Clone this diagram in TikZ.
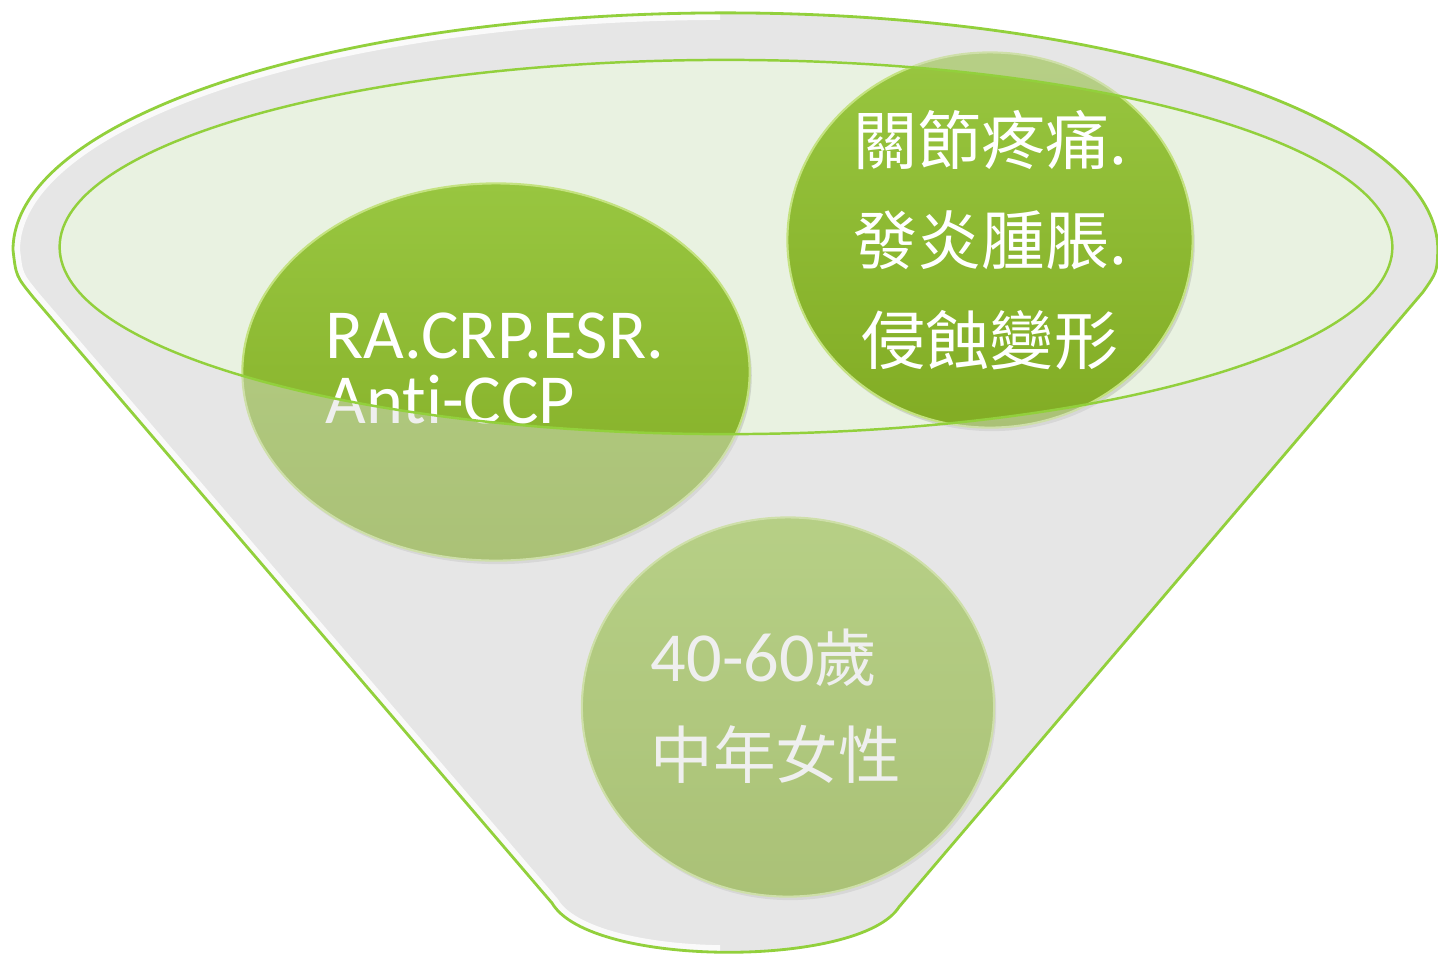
\documentclass[tikz,border=0pt]{standalone}
\usepackage{fontspec}
\setmainfont{Carlito}[Ligatures=NoCommon]
\newfontfamily\cjk{Noto Sans CJK TC}
\usetikzlibrary{shapes.geometric,shadows}

\definecolor{rimgreen}{RGB}{146,208,60}
\definecolor{cupgray}{RGB}{240,240,240}
\definecolor{cupshade}{RGB}{220,220,220}
\definecolor{pondgreen}{RGB}{233,242,225}
\definecolor{ballTop}{RGB}{152,198,64}
\definecolor{ballBottom}{RGB}{130,172,36}
\definecolor{ballRim}{RGB}{196,226,128}

% outline of the cup, in pixels of the picture
\newcommand{\funnelpath}{(33,297) .. controls (16,276) .. (13,250)
  arc[start angle=180, end angle=0, x radius=7.12cm, y radius=2.37cm]
  .. controls (1437,272) .. (1423,292) -- (899,907)
  .. controls (860,968) and (590,968) .. (552,903) -- cycle}
\newcommand{\pondpath}{(726,247) ellipse [x radius=6.66cm, y radius=1.87cm]}
\newcommand{\zh}[1]{{\cjk\fontsize{17.8}{27.6}\selectfont #1}}

\begin{document}
\begin{tikzpicture}[x=0.01cm, y=-0.01cm,
  ball/.style={ellipse, top color=ballTop, bottom color=ballBottom,
    draw=ballRim, line width=0.6pt,
    drop shadow={opacity=0.25, shadow xshift=0.6pt, shadow yshift=-1pt}},
  balltext/.style={text=white, inner sep=0pt}]
\useasboundingbox (0,0) rectangle (1438,956);

\fill[cupgray] \funnelpath;
\fill[pondgreen] \pondpath;

\node[ball, minimum width=5.07cm, minimum height=3.77cm] (tests) at (496,372) {};
\node[ball, minimum width=4.05cm, minimum height=3.75cm] (signs) at (990,240) {};
\node[ball, minimum width=4.12cm, minimum height=3.79cm] (women) at (788,707) {};

\node[balltext, anchor=west, align=left, font=\fontsize{20}{18.5}\selectfont]
  (testsText) at (325,368) {RA.CRP.ESR.\\Ant\kern0pt i-CCP};
\node[balltext, align=center, font=\cjk\fontsize{18.2}{28.5}\selectfont]
  (signsText) at (990,240) {關節疼痛.\\發炎腫脹.\\侵蝕變形};
\node[balltext, anchor=west, align=left, font=\fontsize{20}{27.6}\selectfont]
  (womenText) at (650,706) {40-60\zh{歲}\\\zh{中年女性}};

% front of the cup lies over the balls
\fill[cupshade, fill opacity=0.45, even odd rule] \funnelpath \pondpath;
\begin{scope}
\clip (0,0) rectangle (720,956);
\clip \funnelpath;
\draw[white, line width=4pt, opacity=0.8] \funnelpath;
\end{scope}
\draw[rimgreen, line width=0.8pt] \funnelpath;
\draw[rimgreen, line width=0.7pt] \pondpath;
\end{tikzpicture}
\end{document}
